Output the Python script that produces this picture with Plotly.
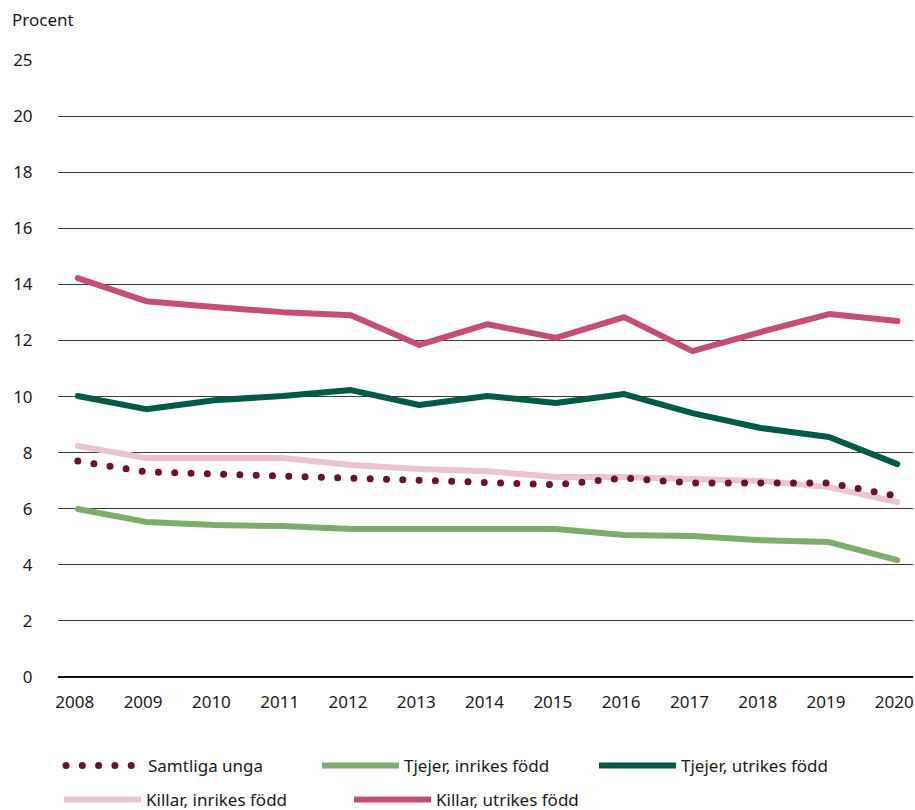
import plotly.graph_objects as go

years = list(range(2008, 2021))

samtliga = [7.70, 7.31, 7.24, 7.17, 7.09, 7.02, 6.95, 6.86, 7.09, 6.92, 6.92, 6.92, 6.45]
tjejer_inrikes = [5.99, 5.53, 5.42, 5.38, 5.28, 5.28, 5.24, 5.28, 5.06, 5.03, 4.88, 4.81, 4.17]
tjejer_utrikes = [10.02, 9.55, 9.87, 10.02, 10.23, 9.70, 10.02, 9.77, 10.09, 9.41, 8.88, 8.56, 7.59]
killar_inrikes = [8.24, 7.81, 7.81, 7.81, 7.56, 7.42, 7.34, 7.13, 7.13, 7.06, 6.99, 6.77, 6.24]
killar_utrikes = [14.22, 13.40, 13.19, 13.01, 12.90, 11.84, 12.58, 12.09, 12.83, 11.62, 12.30, 12.94, 12.69]

# Axis is broken at the top: the last tick (labelled 25) sits one step above 20
ytick_vals = [0, 2, 4, 6, 8, 10, 12, 14, 16, 18, 20, 22]
ytick_text = ["0", "2", "4", "6", "8", "10", "12", "14", "16", "18", "20", "25"]

FONT = "Noto Sans"
FS = 17
TXT = "#1a1a1a"

# plot area in pixels
L, R, T, B = 58, 2, 60, 133
W, H = 915, 810
PW, PH = W - L - R, H - T - B


def px_x(px):
    return (px - L) / PW


def px_y(py):
    return (H - B - py) / PH


fig = go.Figure()

# (name, values, color, dash, legend id, legend symbol start px, legend row centre px)
series = [
    ("Tjejer, inrikes född", tjejer_inrikes, "#7BAE6A", "solid", "legend2", 318, 766),
    ("Tjejer, utrikes född", tjejer_utrikes, "#005A45", "solid", "legend3", 595, 766),
    ("Killar, inrikes född", killar_inrikes, "#EAC5CF", "solid", "legend4", 60, 800),
    ("Killar, utrikes född", killar_utrikes, "#C44E74", "solid", "legend5", 350, 800),
    ("Samtliga unga", samtliga, "#6B0F36", "0px,16.3px", "legend", 62, 766),
]

legend_layouts = {}
for name, vals, color, dash, leg, lx, ly in series:
    fig.add_trace(go.Scatter(
        x=years, y=vals, name=name, mode="lines",
        line=dict(color=color, width=7 if dash != "solid" else 6, dash=dash),
        legend=leg, hoverinfo="skip",
    ))
    legend_layouts[leg] = dict(
        orientation="h", x=px_x(lx - 1), xanchor="left", y=px_y(ly), yanchor="middle",
        font=dict(family=FONT, size=FS, color=TXT), itemwidth=77,
        bgcolor="rgba(0,0,0,0)",
    )

fig.update_layout(
    width=W, height=H,
    margin=dict(l=L, r=R, t=T, b=B, autoexpand=False),
    paper_bgcolor="white", plot_bgcolor="white",
    font=dict(family=FONT, size=FS, color=TXT),
    showlegend=True,
    xaxis=dict(
        range=[2007.71, 2020.23], tickvals=years, ticktext=[str(y) for y in years],
        showgrid=False, zeroline=False, showline=False, automargin=False,
        ticks="outside", ticklen=10, tickcolor="rgba(0,0,0,0)",
        ticklabeloverflow="allow", ticklabelshift=-3,
        tickfont=dict(family=FONT, size=FS, color=TXT),
    ),
    yaxis=dict(
        range=[0, 22], tickvals=ytick_vals, ticktext=ytick_text,
        showgrid=True, gridcolor="#3a3a3a", gridwidth=1,
        zeroline=True, zerolinecolor="#111111", zerolinewidth=2,
        showline=False, automargin=False,
        ticks="outside", ticklen=21, tickcolor="rgba(0,0,0,0)",
        tickfont=dict(family=FONT, size=FS, color=TXT),
    ),
    annotations=[dict(
        text="Procent", xref="paper", yref="paper",
        x=px_x(10), y=px_y(20), xanchor="left", yanchor="middle",
        showarrow=False, font=dict(family=FONT, size=FS, color=TXT),
    )],
    **legend_layouts,
)

post = """
document.documentElement.style.margin = '0';
document.body.style.margin = '0';
document.body.style.padding = '0';
document.body.style.overflow = 'hidden';
var gd = document.getElementById('{plot_id}');
function fixCaps(){
  gd.querySelectorAll('.scatterlayer path.js-line, .legend path.js-line').forEach(function(p){
    p.style.strokeLinecap = 'round';
    p.style.strokeLinejoin = 'round';
  });
}
fixCaps();
if (gd.on) { gd.on('plotly_afterplot', fixCaps); }
"""

fig.write_html("out.html", post_script=post, config={"displayModeBar": False})
